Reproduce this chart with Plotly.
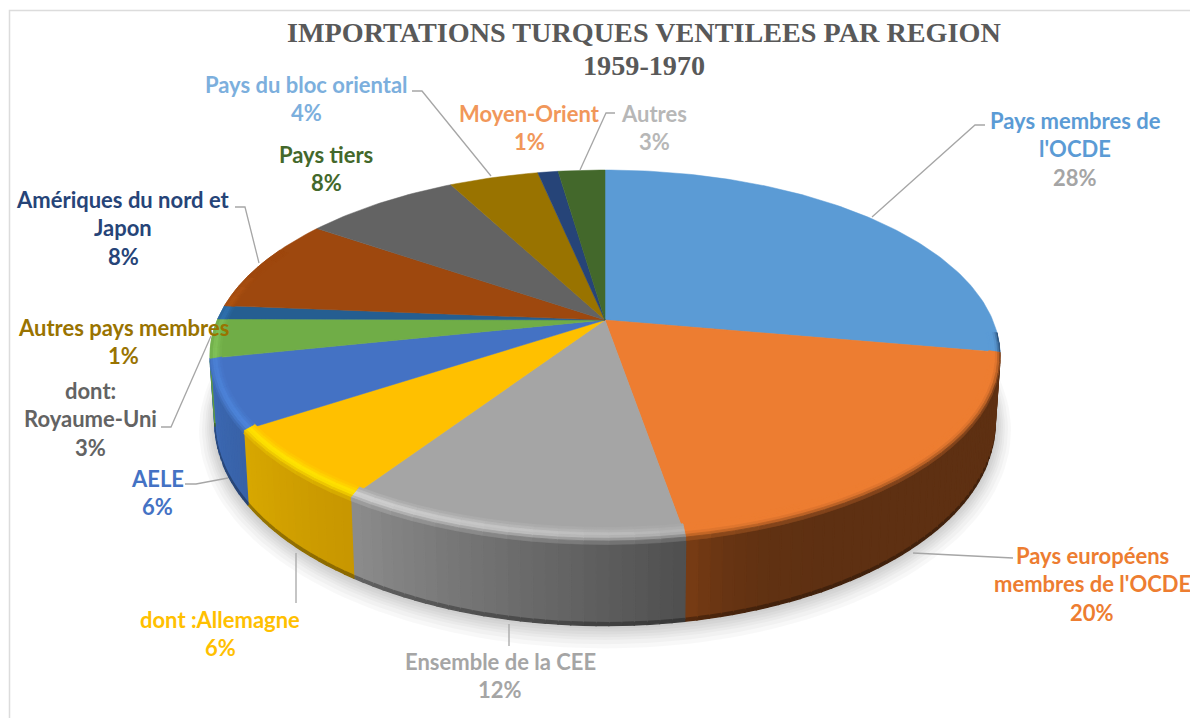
"""
3D-looking pie of Turkish imports by region, built from filled scatter polygons
"""

import numpy as np
import plotly.graph_objects as go

# values (the printed percents are rounded)
categories = [
    "Pays membres de\nl'OCDE", "Pays européens\nmembres de l'OCDE", "Ensemble de la CEE",
    "dont :Allemagne", "AELE", "dont:\nRoyaume-Uni", "Autres pays membres",
    "Amériques du nord et\nJapon", "Pays tiers", "Pays du bloc oriental", "Moyen-Orient", "Autres",
]
values = [27.8, 19.5, 12.0, 6.4, 6.0, 3.4, 1.2, 8.3, 7.7, 4.4, 1.0, 2.3]
percents = ["28%", "20%", "12%", "6%", "6%", "3%", "1%", "8%", "8%", "4%", "1%", "3%"]
title_lines = ["IMPORTATIONS TURQUES VENTILEES PAR REGION", "1959-1970"]

# styles
slice_colors = ["#5b9bd5", "#ed7d31", "#a5a5a5", "#ffc000", "#4472c4", "#70ad47",
                "#255e91", "#9e480e", "#636363", "#997300", "#264478", "#43682b"]
wall_right = ["#1d3a5c", "#5e3012", "#4f4f4f", "#c79600", "#3862a8", "#5e9a3c",
              "#255e91", "#9e480e", "#636363", "#997300", "#264478", "#43682b"]
wall_left = ["#1d3a5c", "#7a3d14", "#8c8c8c", "#d8a800", "#3d6ab5", "#5e9a3c",
             "#255e91", "#9e480e", "#636363", "#997300", "#264478", "#43682b"]
highlights = ["#5b9bd5", "#ed7d31", "#d8d8d8", "#ffe600", "#4f88de", "#8cce62",
              "#3a86d0", "#c8641a", "#636363", "#997300", "#264478", "#43682b"]
name_colors = ["#5b9bd5", "#ed7d31", "#a5a5a5", "#ffc000", "#4472c4", "#636363",
               "#997300", "#264478", "#43682b", "#7cafdd", "#f1975a", "#b7b7b7"]
pct_colors = ["#a5a5a5", "#ed7d31", "#a5a5a5", "#ffc000", "#4472c4", "#636363",
              "#997300", "#264478", "#43682b", "#7cafdd", "#f1975a", "#b7b7b7"]

# label centres: x, y of first line
label_pos = [(1075, 120), (1092, 555), (500, 661), (220, 619), (157, 478), (90, 390),
             (123, 327), (123, 199), (326, 154), (306, 84), (529, 113), (654, 113)]
LINE_STEP = 28.7
LABEL_FONT = "Lato"
LABEL_SIZE = 22
LEADER_COLOR = "#a6a6a6"
leaders = [
    [(985, 125), (975, 125), (872, 217)],
    [(1013, 558), (913, 553)],
    [(509, 624), (509, 646)],
    [(296, 553), (296, 603)],
    [(185, 484), (196, 484), (228, 478)],
    [(161, 427), (171, 427), (211, 336)],
    [(235, 207), (245, 207), (259, 263)],
    [(412, 91), (422, 91), (491, 176)],
    [(615, 113), (606, 113), (580, 170)],
]

# pie geometry in page pixels
CX, CY = 605, 320
TOP_Y, BOTTOM_Y = 170, 541
RX = 395
K = (BOTTOM_Y - CY - (CY - TOP_Y)) / (BOTTOM_Y - CY + CY - TOP_Y)
A = RX * np.sqrt(1 - K ** 2)
B = (CY - TOP_Y) * (1 + K)
ELL_CY = (TOP_Y + BOTTOM_Y) / 2
ELL_RY = (BOTTOM_Y - TOP_Y) / 2
LOW_CY, LOW_RX, LOW_RY = 424, 390, 202
WALL_FROM, WALL_TO = 94, 258.5
# bevel rows, inner radius to rim
BEVEL_EDGES = [0.95, 0.96, 0.97, 0.98, 0.99, 1.0]
BEVEL_HL = [0.2, 0.5, 0.9, 1.0, 0.85]
BEVEL_WALL = [0.0, 0.0, 0.0, 0.1, 0.35]


def rgb(c):
    return np.array([int(c[1:3], 16), int(c[3:5], 16), int(c[5:7], 16)], dtype=float)


def mix(c0, c1, t):
    m = rgb(c0) * (1 - t) + rgb(c1) * t
    return "#%02x%02x%02x" % tuple(int(round(v)) for v in m)


def top_point(theta, r=1.0):
    # theta in degrees, clockwise from 12 o'clock
    a = np.radians(theta)
    u, v = r * np.sin(a), -r * np.cos(a)
    d = 1 - K * v
    return CX + A * u / d, CY + B * v / d


def bevel_point(theta, r):
    # narrower sideways than a plain radius scale would give
    x1, y1 = top_point(theta)
    x, y = top_point(theta, r)
    return x1 + (x - x1) * 0.55, y


def low_point(theta):
    x, y = top_point(theta)
    cos_p, sin_p = (x - CX) / RX, (y - ELL_CY) / ELL_RY
    return CX + LOW_RX * cos_p, LOW_CY + LOW_RY * sin_p


def wall_point(theta, w):
    x0, y0 = top_point(theta)
    x1, y1 = low_point(theta)
    return x0 + (x1 - x0) * w, y0 + (y1 - y0) * w


def add_poly(fig, pts, color, width=1.4):
    pts = list(pts) + [pts[0]]
    fig.add_trace(go.Scatter(
        x=[p[0] for p in pts], y=[p[1] for p in pts], mode="lines", fill="toself", fillcolor=color,
        line=dict(color=color, width=width), hoverinfo="skip", showlegend=False,
    ))


def wall_color(i, t):
    if i == 1:
        t = t ** 14  # the orange wall only lightens next to the grey one
    return mix(wall_right[i], wall_left[i], t)


fig = go.Figure()

# soft shadow below the wall
phi = np.linspace(0, 2 * np.pi, 181)
for grow in [16, 13, 10, 8, 6, 4, 2]:
    fig.add_trace(go.Scatter(
        x=CX + (LOW_RX + grow) * np.cos(phi),
        y=LOW_CY + grow * 0.4 + (LOW_RY + grow) * np.sin(phi),
        mode="lines", fill="toself", fillcolor="rgba(0,0,0,0.028)",
        line=dict(width=0), hoverinfo="skip", showlegend=False,
    ))

edges = np.concatenate([[0], np.cumsum(values)]) / sum(values) * 360

# walls, in short quads so the shading can run along them
for i, (t0, t1) in enumerate(zip(edges[:-1], edges[1:])):
    lo, hi = max(t0, WALL_FROM), min(t1, WALL_TO)
    if hi <= lo:
        continue
    steps = np.linspace(lo, hi, max(2, int((hi - lo) / 1.5) + 1))
    for a0, a1 in zip(steps[:-1], steps[1:]):
        color = wall_color(i, ((a0 + a1) / 2 - t0) / (t1 - t0))
        # wall body and its darker foot
        for w0, w1, c in [(0.04, 0.96, color), (0.96, 0.995, mix(color, "#000000", 0.3))]:
            add_poly(fig, [wall_point(a0, w0), wall_point(a1, w0), wall_point(a1, w1), wall_point(a0, w1)], c)

# top face
for i, (t0, t1) in enumerate(zip(edges[:-1], edges[1:])):
    arc = np.linspace(t0, t1, max(3, int(t1 - t0) + 2))
    xs, ys = top_point(arc)
    add_poly(fig, [(CX, CY)] + list(zip(xs, ys)), slice_colors[i], width=0.5)

# bevel along the front rim
for i, (t0, t1) in enumerate(zip(edges[:-1], edges[1:])):
    lo, hi = max(t0, WALL_FROM), min(t1, 295)
    if hi <= lo:
        continue
    steps = np.linspace(lo, hi, max(2, int((hi - lo) / 3) + 1))
    for a0, a1 in zip(steps[:-1], steps[1:]):
        mid = (a0 + a1) / 2
        wall = wall_color(i, (mid - t0) / (t1 - t0))
        strength = np.clip(1 - abs(mid - 225) / 60, 0, 1) ** 0.5
        hl = mix(slice_colors[i], highlights[i], strength)
        for k in range(5):
            r0, r1 = BEVEL_EDGES[k], BEVEL_EDGES[k + 1]
            c = mix(mix(slice_colors[i], hl, BEVEL_HL[k]), wall, BEVEL_WALL[k])
            add_poly(fig, [bevel_point(a0, r0), bevel_point(a1, r0), bevel_point(a1, r1), bevel_point(a0, r1)], c, width=0.8)
        if mid < WALL_TO:
            add_poly(fig, [wall_point(a0, 0), wall_point(a1, 0), wall_point(a1, 0.04), wall_point(a0, 0.04)],
                     mix(hl, wall, 0.75), width=0.8)

# leader lines
for pts in leaders:
    fig.add_trace(go.Scatter(
        x=[p[0] for p in pts], y=[p[1] for p in pts], mode="lines",
        line=dict(color=LEADER_COLOR, width=1.3), hoverinfo="skip", showlegend=False,
    ))

# one annotation per text line, the spacing in the picture is wider than plotly's
annotations = []
for i, name in enumerate(categories):
    lx, ly = label_pos[i]
    lines = name.split("\n")
    for j, line in enumerate(lines + [percents[i]]):
        annotations.append(dict(
            x=lx, y=ly + j * LINE_STEP, text=line, showarrow=False, xanchor="center", yanchor="middle",
            font=dict(family=LABEL_FONT, size=LABEL_SIZE, color=name_colors[i] if j < len(lines) else pct_colors[i],
                      weight="bold"),
        ))
for j, line in enumerate(title_lines):
    annotations.append(dict(
        x=644, y=32 + j * 33, text=line, showarrow=False, xanchor="center", yanchor="middle",
        font=dict(family="Liberation Serif", size=28.2, color="#595959", weight="bold"),
    ))

fig.update_layout(
    width=1190,
    height=718,
    margin=dict(l=0, r=0, t=0, b=0),
    paper_bgcolor="white",
    plot_bgcolor="white",
    showlegend=False,
    annotations=annotations,
    shapes=[dict(type="path", path="M 9.5 718 L 9.5 10.5 L 1190 10.5",
                 line=dict(color="#dcdcdc", width=1.5))],
    xaxis=dict(visible=False, range=[0, 1190], fixedrange=True),
    yaxis=dict(visible=False, range=[718, 0], fixedrange=True),
)

fig.write_html("out.html", config=dict(displayModeBar=False),
               post_script="document.body.style.margin='0';document.documentElement.style.overflow='hidden';")
